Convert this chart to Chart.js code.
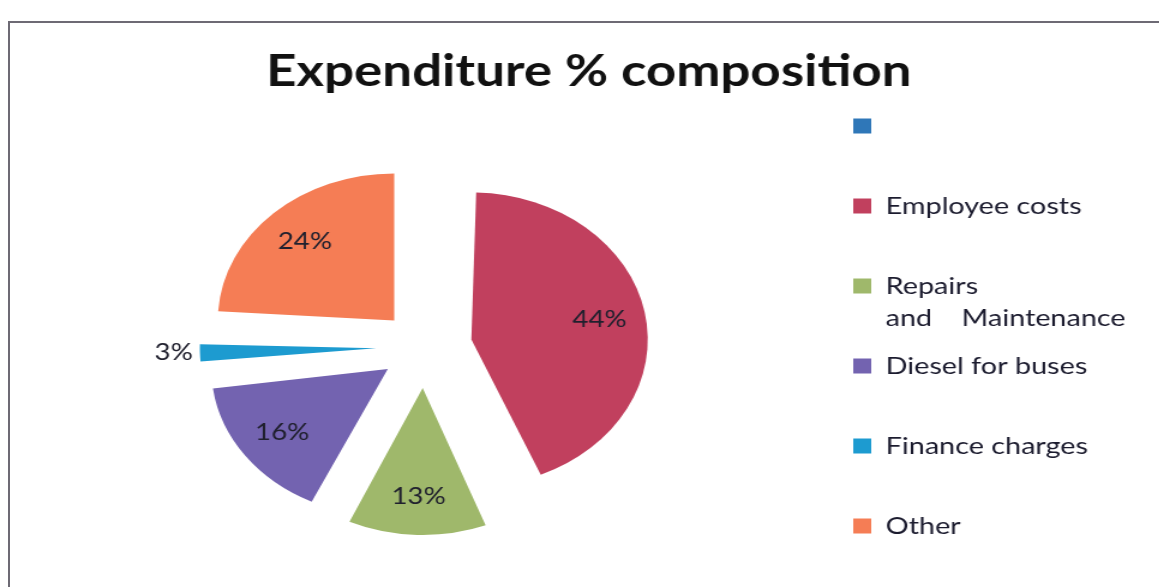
<!DOCTYPE html>
<html>
<head>
    <title>Expenditure % composition</title>
    <script src="https://cdn.jsdelivr.net/npm/chart.js"></script>
    <style>
        body { margin: 0; background: #fff; overflow: hidden; width: 1159px; height: 587px; }
        #frame { position: absolute; left: 8px; top: 21px; width: 1200px; height: 700px; border: 2px solid #6d6a74; }
        #wrap { position: absolute; left: 0; top: 0; transform: scaleX(1.2); transform-origin: 0 0; }
    </style>
</head>
<body>
    <div id="frame"></div>
    <div id="wrap">
        <canvas id="grafico" width="966" height="620"></canvas>
    </div>

    <script>
        // categories and shares (%), first one is a blank entry in the original legend
        const categorias = ['', 'Employee costs', 'Repairs\nand    Maintenance', 'Diesel for buses', 'Finance charges', 'Other'];
        const valores = [0, 44, 13, 16, 3, 24];

        const cores = ['#2f77b8', '#c1405e', '#9fb86b', '#7363b0', '#1d9bd0', '#f57d55'];
        const raio = 147;

        // v4 grows the radius of exploded slices; keep every slice at the same radius
        const raioIgual = {
            id: 'raioIgual',
            afterDatasetUpdate(chart, args) {
                args.meta.data.forEach(arc => {
                    const off = (arc.options.offset || 0) / 4;
                    const fix = 1 - Math.sin(Math.min(Math.PI, arc.circumference || 0));
                    arc.outerRadius = raio - off * fix;
                });
            }
        };

        // percent labels, drawn inside the slices (outside for the small ones)
        const rotulos = {
            id: 'rotulos',
            afterDatasetsDraw(chart) {
                const ctx = chart.ctx;
                const meta = chart.getDatasetMeta(0);
                ctx.save();
                ctx.font = '23px Lato';
                ctx.fillStyle = '#20202e';
                ctx.textBaseline = 'middle';
                meta.data.forEach((arc, i) => {
                    const v = valores[i];
                    if (!v) return;
                    const p = arc.getProps(['x', 'y', 'startAngle', 'endAngle'], true);
                    const meio = (p.startAngle + p.endAngle) / 2;
                    // chart.js v4 moves the arc by a quarter of the offset option
                    const off = (arc.options.offset || 0) / 4;
                    let r;
                    if (v < 5) {
                        r = off + raio + 6;
                        ctx.textAlign = 'right';
                    } else {
                        r = off + raio * 0.74;
                        ctx.textAlign = 'center';
                    }
                    ctx.fillText(v + '%', p.x + Math.cos(meio) * r, p.y + Math.sin(meio) * r);
                });
                ctx.restore();
            }
        };

        const ctx = document.getElementById('grafico').getContext('2d');
        const myChart = new Chart(ctx, {
            type: 'pie',
            data: {
                labels: categorias,
                datasets: [{
                    data: valores,
                    backgroundColor: cores,
                    borderWidth: 0,
                    offset: [0, 160, 164, 150, 160, 146],
                    radius: raio
                }]
            },
            options: {
                responsive: false,
                animation: false,
                layout: {
                    padding: { left: 12, right: 18, top: 0, bottom: 24 }
                },
                plugins: {
                    title: {
                        display: true,
                        text: '  Expenditure % composition',
                        color: '#111',
                        font: { family: 'Lato', size: 44, weight: 'bold', lineHeight: 1 },
                        padding: { top: 50, bottom: 4 }
                    },
                    legend: {
                        position: 'right',
                        align: 'start',
                        fullSize: false,
                        labels: {
                            boxWidth: 15,
                            boxHeight: 15,
                            padding: 16,
                            color: '#1b1b2e',
                            font: { family: 'Lato', size: 24, lineHeight: '32px' },
                            generateLabels(chart) {
                                const itens = Chart.overrides.pie.plugins.legend.labels.generateLabels(chart);
                                itens.forEach(item => {
                                    const linhas = String(categorias[item.index]).split('\n');
                                    while (linhas.length < 2) linhas.push('');
                                    item.text = linhas;
                                    item.lineWidth = 0;
                                    item.hidden = false;
                                });
                                return itens;
                            }
                        }
                    },
                    tooltip: { enabled: false }
                }
            },
            plugins: [raioIgual, rotulos]
        });
    </script>
</body>
</html>
